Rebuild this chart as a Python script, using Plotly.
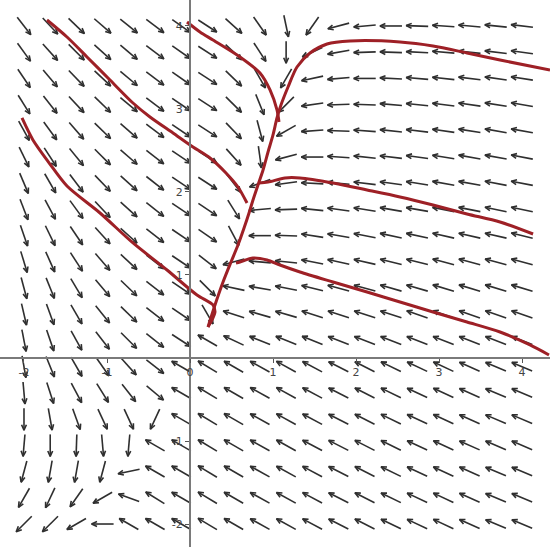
import numpy as np
import plotly.graph_objects as go
import plotly.figure_factory as ff

# ---- direction-field grid (arrow centres) ----
grid_x = [-2.0, -1.684, -1.368, -1.053, -0.737, -0.421, -0.105, 0.211, 0.526, 0.842,
          1.158, 1.474, 1.789, 2.105, 2.421, 2.737, 3.053, 3.368, 3.684, 4.0]
grid_y = [4.0, 3.684, 3.368, 3.053, 2.737, 2.421, 2.105, 1.789, 1.474, 1.158,
          0.842, 0.526, 0.211, -0.105, -0.421, -0.737, -1.053, -1.368, -1.684, -2.0]

# arrow directions in degrees, one row per grid_y value, one column per grid_x value
angle_rows = [
    [-52, -47, -44, -41, -39, -37, -35, -33, -42, -55, -78, 235, 195, 185, 180, 178, 176, 175, 174, 173],
    [-54, -48, -45, -42, -40, -37, -35, -33, -43, -57, -90, 205, 190, 182, 178, 177, 175, 174, 173, 172],
    [-56, -50, -46, -43, -40, -37, -35, -33, -44, -60, 240, 192, 185, 180, 177, 175, 174, 173, 172, 171],
    [-58, -52, -47, -44, -40, -37, -34, -33, -45, -68, 225, 188, 182, 178, 175, 174, 173, 172, 171, 170],
    [-61, -54, -49, -44, -41, -37, -34, -33, -46, -75, 210, 184, 178, 176, 174, 173, 172, 171, 170, 170],
    [-64, -57, -51, -45, -41, -38, -34, -33, -48, -82, 195, 180, 176, 174, 173, 172, 171, 170, 170, 169],
    [-67, -60, -53, -46, -42, -38, -34, -33, -52, 200, 188, 177, 175, 173, 172, 171, 170, 170, 169, 169],
    [-69, -62, -54, -47, -42, -38, -34, -34, -58, 185, 182, 174, 172, 171, 170, 170, 169, 169, 168, 168],
    [-71, -64, -56, -48, -42, -38, -34, -35, -62, 180, 178, 171, 170, 169, 168, 168, 167, 167, 167, 166],
    [-73, -66, -57, -49, -43, -38, -34, -38, 195, 175, 174, 169, 168, 167, 166, 166, 165, 165, 165, 165],
    [-75, -68, -59, -50, -44, -38, -34, -45, 168, 170, 169, 166, 165, 165, 164, 164, 163, 163, 163, 163],
    [-77, -70, -60, -51, -44, -38, -34, -60, 162, 164, 164, 162, 162, 162, 162, 161, 161, 161, 161, 161],
    [-79, -71, -61, -52, -45, -38, -33, 150, 155, 158, 158, 158, 159, 159, 159, 159, 159, 159, 159, 159],
    [-80, -68, -60, -55, -48, -38, 150, 149, 150, 151, 151, 152, 153, 153, 154, 155, 155, 156, 157, 157],
    [-85, -72, -62, -58, -52, -40, 150, 149, 150, 151, 151, 152, 153, 153, 154, 155, 155, 156, 157, 157],
    [-90, -80, -70, -65, -65, -115, 150, 149, 150, 151, 151, 152, 153, 153, 154, 155, 155, 156, 157, 157],
    [-95, -90, -92, -85, -95, 150, 150, 149, 150, 151, 151, 152, 153, 153, 154, 155, 155, 156, 157, 157],
    [-105, -100, -100, -105, 192, 150, 150, 149, 150, 151, 151, 152, 153, 153, 154, 155, 155, 156, 157, 157],
    [-120, -115, -125, 210, 160, 148, 150, 149, 150, 151, 151, 152, 153, 153, 154, 155, 155, 156, 157, 157],
    [-135, -135, 210, 180, 150, 150, 150, 149, 150, 151, 151, 152, 153, 153, 154, 155, 155, 156, 157, 157],
]

# ---- hand-drawn solution curves ----
curve1_x = [-2.024, -1.892, -1.687, -1.482, -1.084, -0.687, -0.277, 0.084, 0.277, 0.301, 0.265, 0.217]
curve1_y = [2.892, 2.627, 2.337, 2.072, 1.747, 1.386, 1.060, 0.759, 0.639, 0.554, 0.458, 0.373]

curve2_x = [-1.723, -1.482, -1.241, -0.964, -0.687, -0.482, -0.205, 0.036, 0.241, 0.422, 0.578, 0.687]
curve2_y = [4.072, 3.867, 3.627, 3.349, 3.072, 2.904, 2.711, 2.542, 2.410, 2.241, 2.060, 1.867]

curve3_x = [-0.036, 0.120, 0.277, 0.602, 0.843, 0.964, 1.048, 1.072]
curve3_y = [4.048, 3.928, 3.831, 3.627, 3.434, 3.229, 2.988, 2.843]

main_x = [0.217, 0.301, 0.398, 0.494, 0.578, 0.651, 0.711, 0.759, 0.819, 0.880, 0.940, 1.000,
          1.048, 1.096, 1.181, 1.289, 1.446, 1.651, 1.928, 2.530, 2.928, 3.337, 3.735, 4.337]
main_y = [0.373, 0.639, 0.916, 1.157, 1.361, 1.566, 1.747, 1.904, 2.084, 2.265, 2.482, 2.687,
          2.892, 3.048, 3.265, 3.506, 3.675, 3.783, 3.819, 3.807, 3.759, 3.675, 3.590, 3.470]

curve4_x = [0.831, 0.940, 1.145, 1.325, 1.723, 2.133, 2.530, 2.928, 3.337, 3.735, 4.133]
curve4_y = [2.108, 2.120, 2.169, 2.169, 2.108, 2.024, 1.940, 1.843, 1.735, 1.639, 1.494]

curve6_x = [0.554, 0.602, 0.759, 0.928, 1.084, 1.325, 1.723, 2.133, 2.530, 2.928, 3.337, 3.735, 4.096, 4.325]
curve6_y = [1.145, 1.157, 1.205, 1.181, 1.120, 1.036, 0.916, 0.795, 0.675, 0.554, 0.434, 0.313, 0.157, 0.036]

x_tick_vals = [-2, -1, 0, 1, 2, 3, 4]
x_tick_text = ["-2", "-1", "0", "1", "2", "3", "4"]
y_tick_vals = [-2, -1, 1, 2, 3, 4]
y_tick_text = ["-2", "-1", "1", "2", "3", "4"]

x_range = [-2.289, 4.337]
y_range = [-2.277, 4.313]

# ---- build arrows ----
gx, gy = np.meshgrid(np.array(grid_x), np.array(grid_y))
ang = np.radians(np.array(angle_rows, dtype=float))
u = np.cos(ang).ravel()
v = np.sin(ang).ravel()
arrow_len = 0.265
x0 = gx.ravel() - u * arrow_len / 2
y0 = gy.ravel() - v * arrow_len / 2

fig = ff.create_quiver(x0, y0, u, v, scale=arrow_len, arrow_scale=0.27, angle=0.42,
                       line=dict(color="#2f2f2f", width=1.6), hoverinfo="skip")

red = "rgb(158,32,38)"
for cx, cy in [(curve1_x, curve1_y), (curve2_x, curve2_y), (curve3_x, curve3_y),
               (main_x, main_y), (curve4_x, curve4_y), (curve6_x, curve6_y)]:
    fig.add_trace(go.Scatter(x=cx, y=cy, mode="lines",
                             line=dict(color=red, width=3, shape="spline", smoothing=0.8),
                             hoverinfo="skip"))

xpos = (0 - y_range[0]) / (y_range[1] - y_range[0])
ypos = (0 - x_range[0]) / (x_range[1] - x_range[0])

axis_font = dict(family="DejaVu Sans", size=11, color="#444444")
fig.update_layout(
    width=550, height=547,
    margin=dict(l=0, r=0, t=0, b=0),
    paper_bgcolor="white", plot_bgcolor="white",
    showlegend=False,
    xaxis=dict(range=x_range, anchor="free", position=xpos, showline=True,
               linecolor="#7a7a7a", linewidth=2, ticks="outside", ticklen=4,
               tickcolor="#555555", tickvals=x_tick_vals, ticktext=x_tick_text,
               showgrid=False, zeroline=False, tickfont=axis_font, automargin=False),
    yaxis=dict(range=y_range, anchor="free", position=ypos, showline=True,
               linecolor="#7a7a7a", linewidth=2, ticks="outside", ticklen=4,
               tickcolor="#555555", tickvals=y_tick_vals, ticktext=y_tick_text,
               showgrid=False, zeroline=False, tickfont=axis_font, automargin=False),
)

fig.write_html("out.html", config={"displayModeBar": False},
               post_script="document.body.style.margin='0';document.body.style.padding='0';")
